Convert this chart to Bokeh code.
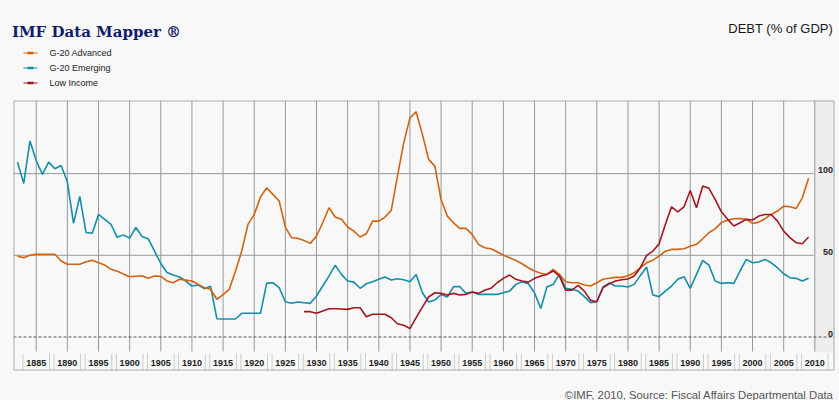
from bokeh.plotting import figure
from bokeh.models import Range1d
from bokeh.core.properties import value
from bokeh.embed import file_html
from bokeh.resources import INLINE

# ---------------- data ----------------
series_names = ["G-20 Advanced", "G-20 Emerging", "Low Income"]

adv_start = 1882
adv_values = [
    49.5, 48.5, 50.0, 50.6, 50.6, 50.6, 50.6, 46.5, 44.5, 44.5,   # 1882-1891
    44.5, 46.0, 46.9, 45.5, 44.0, 41.4, 40.3, 38.5, 36.9, 37.2,   # 1892-1901
    37.5, 35.9, 37.3, 37.1, 34.3, 33.2, 35.3, 34.8, 34.3, 32.2,   # 1902-1911
    30.2, 29.2, 23.1, 26.0, 29.2, 40.4, 52.6, 68.9, 75.0, 85.6,   # 1912-1921
    91.3, 87.3, 83.2, 67.3, 60.7, 60.4, 59.0, 57.3, 61.8, 69.9,   # 1922-1931
    79.1, 73.4, 72.0, 67.3, 64.8, 61.2, 63.2, 70.9, 70.9, 73.4,   # 1932-1941
    77.5, 98.5, 118.8, 134.1, 137.8, 124.0, 108.7, 104.6, 84.0, 74.0,  # 1942-1951
    69.9, 66.5, 66.5, 62.8, 56.7, 54.6, 54.0, 52.2, 50.0, 48.5,   # 1952-1961
    46.9, 44.8, 42.4, 40.4, 39.0, 38.3, 41.4, 38.3, 33.8, 33.2,   # 1962-1971
    33.2, 31.8, 31.2, 33.2, 35.3, 36.0, 36.5, 36.5, 37.5, 39.3,   # 1972-1981
    42.4, 45.4, 47.0, 49.5, 52.5, 53.6, 53.6, 54.0, 55.5, 56.7,   # 1982-1991
    60.1, 63.8, 66.2, 70.0, 71.4, 72.4, 72.5, 72.0, 69.5, 70.3,   # 1992-2001
    72.4, 75.0, 77.1, 80.1, 79.7, 78.7, 85.2, 97.1,               # 2002-2009
]

emg_start = 1882
emg_values = [
    107.0, 94.0, 120.0, 108.0, 99.5, 107.0, 103.0, 105.0, 95.0, 69.5,  # 1882-1891
    86.0, 64.0, 63.5, 75.0, 72.0, 69.0, 61.0, 62.5, 60.5, 67.0,   # 1892-1901
    61.5, 60.0, 52.5, 45.0, 39.5, 38.0, 36.7, 34.3, 31.2, 31.8,   # 1902-1911
    29.6, 31.0, 11.2, 11.0, 11.0, 11.0, 14.5, 14.5, 14.5, 14.5,   # 1912-1921
    32.8, 33.2, 30.2, 21.6, 20.6, 21.4, 21.0, 20.6, 25.1, 31.2,   # 1922-1931
    37.3, 44.0, 38.3, 34.3, 33.6, 29.8, 32.6, 33.8, 35.3, 36.7,   # 1932-1941
    34.9, 35.7, 35.0, 33.8, 38.3, 27.1, 21.4, 22.6, 26.0, 24.5,   # 1942-1951
    30.8, 30.8, 26.7, 27.5, 26.1, 26.1, 26.1, 26.1, 27.1, 28.1,   # 1952-1961
    32.2, 33.8, 32.6, 27.1, 17.5, 30.8, 32.2, 38.3, 29.8, 29.2,   # 1962-1971
    28.1, 24.7, 21.0, 21.6, 30.6, 33.0, 31.2, 31.2, 30.6, 32.2,   # 1972-1981
    37.7, 42.8, 25.7, 24.7, 28.1, 31.2, 35.3, 36.9, 29.8, 38.3,   # 1982-1991
    46.9, 44.0, 34.3, 32.8, 33.2, 32.8, 40.4, 47.5, 45.4, 45.9,   # 1992-2001
    47.5, 45.4, 42.4, 38.7, 36.3, 35.9, 34.3, 35.9,               # 2002-2009
]

low_start = 1928
low_values = [
    15.5, 15.5, 14.5, 15.9, 17.3, 17.3, 17.1, 16.9, 17.9, 17.9,   # 1928-1937
    12.4, 13.9, 13.9, 13.9, 11.8, 8.1, 7.2, 5.1, 11.8, 18.3,      # 1938-1947
    24.5, 27.1, 26.7, 25.7, 26.7, 25.7, 26.1, 27.5, 26.7, 28.6,   # 1948-1957
    29.8, 33.2, 35.9, 37.9, 35.3, 34.3, 33.6, 35.9, 37.3, 38.3,   # 1958-1967
    40.4, 37.3, 28.7, 28.7, 31.6, 28.1, 22.4, 21.6, 30.2, 32.6,   # 1968-1977
    34.3, 35.0, 35.5, 37.3, 42.4, 50.0, 52.6, 57.0, 68.9, 79.7,   # 1978-1987
    76.6, 79.7, 89.7, 79.1, 92.4, 91.0, 84.2, 76.6, 72.0, 67.9,   # 1988-1997
    69.9, 72.0, 71.6, 74.0, 75.0, 75.0, 70.9, 64.8, 60.8, 57.7,   # 1998-2007
    57.1, 61.2,                                                   # 2008-2009
]

x_ticks = [1885, 1890, 1895, 1900, 1905, 1910, 1915, 1920, 1925, 1930,
           1935, 1940, 1945, 1950, 1955, 1960, 1965, 1970, 1975, 1980,
           1985, 1990, 1995, 2000, 2005, 2010]
x_tick_labels = [str(t) for t in x_ticks]
y_ticks = [0, 50, 100]
y_tick_labels = ["0", "50", "100"]

title_text = "IMF Data Mapper \u00ae"
unit_text = "DEBT (% of GDP)"
source_text = "\u00a9IMF, 2010, Source: Fiscal Affairs Departmental Data"

# ---------------- layout (pixel geometry of the page) ----------------
W, H = 839, 400
PX_1885 = 35.7        # pixel column of the 1885 gridline
PX_PER_YEAR = 6.229
PY_ZERO = 336.5       # pixel row of the zero line
PX_PER_UNIT = 1.634

x_start = 1885 - PX_1885 / PX_PER_YEAR
x_end = x_start + W / PX_PER_YEAR
y_top = PY_ZERO / PX_PER_UNIT
y_bottom = y_top - H / PX_PER_UNIT


def X(px):
    return x_start + px / PX_PER_YEAR


def Y(py):
    return y_top - py / PX_PER_UNIT


BG = "#f8f8f8"
GRID = "#949a9a"
C_ADV = "#d2620f"
C_EMG = "#128ea9"
C_LOW = "#a3151f"
SANS = value("Liberation Sans")

p = figure(width=W, height=H, x_range=Range1d(x_start, x_end),
           y_range=Range1d(y_bottom, y_top), min_border=0,
           x_axis_location=None, y_axis_location=None,
           toolbar_location=None, output_backend="svg",
           background_fill_color=BG, border_fill_color=BG,
           outline_line_color=None)
p.grid.visible = False

# right value strip
p.quad(left=[X(813)], right=[X(834)], top=[Y(100)], bottom=[Y(352)],
       fill_color="#eeeeee", line_color=None)

# vertical gridlines
p.segment(x0=x_ticks, x1=x_ticks, y0=[Y(351)] * len(x_ticks),
          y1=[Y(100)] * len(x_ticks), line_color=GRID, line_width=1)
# horizontal gridlines
hy = [v for v in y_ticks if v != 0]
p.segment(x0=[X(13)] * len(hy), x1=[X(813)] * len(hy), y0=hy, y1=hy,
          line_color=GRID, line_width=1)
# zero line
p.segment(x0=[X(13)], x1=[X(834)], y0=[0], y1=[0], line_color="#555555",
          line_width=1, line_dash="3 2")

# tick label boxes
half = 13.3 / PX_PER_YEAR
edges = [t - half for t in x_ticks] + [t + half for t in x_ticks]
p.segment(x0=edges, x1=edges, y0=[Y(353)] * len(edges),
          y1=[Y(370)] * len(edges), line_color="#c9cdcd", line_width=1)

# frame border
p.quad(left=[X(13.5)], right=[X(833.5)], top=[Y(100.5)], bottom=[Y(369.5)],
       fill_color=None, line_color="#a8adad", line_width=1)

# data lines
adv_years = list(range(adv_start, adv_start + len(adv_values)))
emg_years = list(range(emg_start, emg_start + len(emg_values)))
low_years = list(range(low_start, low_start + len(low_values)))
p.line(emg_years, emg_values, line_color=C_EMG, line_width=1.6)
p.line(adv_years, adv_values, line_color=C_ADV, line_width=1.6)
p.line(low_years, low_values, line_color=C_LOW, line_width=1.6)

# x tick labels
p.text(x=x_ticks, y=[Y(362.5)] * len(x_ticks), text=x_tick_labels,
       text_align="center", text_baseline="middle", text_font=SANS,
       text_font_style="bold", text_font_size="9px", text_color="#222222")

# right value labels
p.text(x=[X(832.5)] * len(y_ticks), y=[v + 3.3 / PX_PER_UNIT for v in y_ticks],
       text=y_tick_labels, text_align="right", text_baseline="alphabetic",
       text_font=SANS, text_font_style="bold", text_font_size="9px",
       text_color="#222222")

# title
p.text(x=[X(11.5)], y=[Y(31)], text=[title_text], text_align="left",
       text_baseline="alphabetic", text_font=value("DejaVu Serif"),
       text_font_style="bold", text_font_size="15px", text_color="#131b6b")

# unit label
p.text(x=[X(832.5)], y=[Y(27.5)], text=[unit_text], text_align="right",
       text_baseline="alphabetic", text_font=SANS, text_font_size="13px",
       text_color="#1a1a1a")

# source
p.text(x=[X(833)], y=[Y(394.5)], text=[source_text], text_align="right",
       text_baseline="alphabetic", text_font=SANS, text_font_size="11.3px",
       text_color="#555555")

# legend
leg_py = [52.5, 67.5, 82.5]
leg_colors = [C_ADV, C_EMG, C_LOW]
p.segment(x0=[X(23)] * 3, x1=[X(37)] * 3, y0=[Y(v) for v in leg_py],
          y1=[Y(v) for v in leg_py], line_color=leg_colors, line_width=1)
p.rect(x=[X(30)] * 3, y=[Y(v) for v in leg_py], width=6 / PX_PER_YEAR,
       height=2.5 / PX_PER_UNIT, fill_color=leg_colors, line_color=None)
p.text(x=[X(49)] * 3, y=[Y(v) for v in leg_py], text=series_names,
       text_align="left", text_baseline="middle", text_font=SANS,
       text_font_size="9px", text_color="#222222")

open("out.html", "w").write(file_html(p, INLINE))
